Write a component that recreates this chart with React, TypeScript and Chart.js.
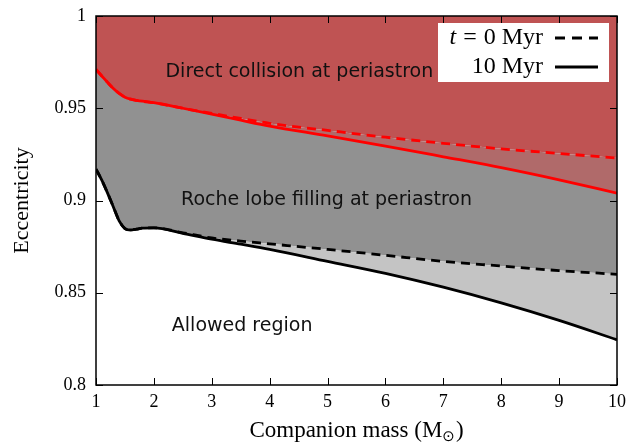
import { useEffect, useRef } from "react";
import { Chart, registerables } from "chart.js";

Chart.register(...registerables);

// Companion mass grid (M_sun)
const massGrid = [1, 1.1, 1.2, 1.3, 1.4, 1.5, 1.6, 1.7, 1.8, 2, 2.5, 3, 3.5, 4, 5, 6, 7, 8, 9, 10];
// Direct collision boundary
const collision10 = [0.971, 0.9675, 0.964, 0.9607, 0.958, 0.956, 0.9549, 0.9543, 0.9538, 0.953, 0.95, 0.9468, 0.9435, 0.9403, 0.935, 0.9295, 0.9237, 0.9178, 0.9112, 0.904];
const collision0 = [0.971, 0.9675, 0.964, 0.9607, 0.958, 0.956, 0.9549, 0.9543, 0.9538, 0.953, 0.95, 0.9472, 0.9445, 0.9418, 0.938, 0.9343, 0.931, 0.928, 0.9255, 0.923];
// Roche lobe filling boundary
const roche10 = [0.917, 0.911, 0.904, 0.8965, 0.889, 0.8848, 0.884, 0.8845, 0.885, 0.8852, 0.8822, 0.879, 0.8763, 0.8735, 0.867, 0.8605, 0.853, 0.8445, 0.835, 0.8245];
const roche0 = [0.917, 0.911, 0.904, 0.8965, 0.889, 0.8848, 0.884, 0.8845, 0.885, 0.8852, 0.8825, 0.8797, 0.878, 0.8765, 0.8735, 0.8703, 0.867, 0.8645, 0.862, 0.86];

const xTickValues = [1, 2, 3, 4, 5, 6, 7, 8, 9, 10];
const yTickValues = [0.8, 0.85, 0.9, 0.95, 1];

const regionLabels = ["Direct collision at periastron", "Roche lobe filling at periastron", "Allowed region"];
const legendLabels = ["0 Myr", "10 Myr"];

const SERIF = "'Liberation Serif', 'DejaVu Serif', serif";
const SANS = "'DejaVu Sans', 'Open Sans', sans-serif";

const pts = (ys: number[]) => massGrid.map((x, i) => ({ x, y: ys[i] }));

const decor = {
  id: "decor",
  afterDatasetsDraw(chart: any) {
    const ctx = chart.ctx as CanvasRenderingContext2D;
    const { left, right, top, bottom } = chart.chartArea;
    const xs = chart.scales.x;
    const ys = chart.scales.y;
    ctx.save();

    // region labels
    ctx.fillStyle = "#111";
    ctx.textBaseline = "alphabetic";
    ctx.textAlign = "left";
    ctx.font = `19px ${SANS}`;
    ctx.fillText(regionLabels[0], xs.getPixelForValue(2.2), ys.getPixelForValue(0.967));
    ctx.fillText(regionLabels[1], xs.getPixelForValue(2.47), ys.getPixelForValue(0.8976));
    ctx.fillText(regionLabels[2], xs.getPixelForValue(2.31), ys.getPixelForValue(0.829));

    // frame
    ctx.strokeStyle = "#000";
    ctx.lineWidth = 1.5;
    ctx.strokeRect(left, top, right - left, bottom - top);

    // inward ticks
    ctx.lineWidth = 1;
    const tl = 7;
    ctx.beginPath();
    xTickValues.forEach((v) => {
      const px = Math.round(xs.getPixelForValue(v)) + 0.5;
      ctx.moveTo(px, bottom);
      ctx.lineTo(px, bottom - tl);
      ctx.moveTo(px, top);
      ctx.lineTo(px, top + tl);
    });
    yTickValues.forEach((v) => {
      const py = Math.round(ys.getPixelForValue(v)) + 0.5;
      ctx.moveTo(left, py);
      ctx.lineTo(left + tl, py);
      ctx.moveTo(right, py);
      ctx.lineTo(right - tl, py);
    });
    ctx.stroke();

    // legend
    const bx = 438, by = 23, bw = 171, bh = 59;
    ctx.fillStyle = "#fff";
    ctx.fillRect(bx, by, bw, bh);
    ctx.fillStyle = "#000";
    ctx.textBaseline = "alphabetic";
    ctx.textAlign = "left";
    const textRight = 543;
    ctx.font = `24px ${SERIF}`;
    const w0 = ctx.measureText(legendLabels[0]).width;
    const wEq = ctx.measureText("=").width;
    const gap = 7;
    ctx.font = `italic 24px ${SERIF}`;
    const wT = ctx.measureText("t").width;
    let lx = textRight - w0 - gap - wEq - gap - wT;
    ctx.fillText("t", lx, 44);
    ctx.font = `24px ${SERIF}`;
    ctx.fillText("=", lx + wT + gap, 44);
    ctx.fillText(legendLabels[0], textRight - w0, 44);
    ctx.textAlign = "right";
    ctx.fillText(legendLabels[1], textRight, 73);

    ctx.strokeStyle = "#000";
    ctx.lineWidth = 3;
    ctx.setLineDash([10, 7]);
    ctx.beginPath();
    ctx.moveTo(555, 38);
    ctx.lineTo(598, 38);
    ctx.stroke();
    ctx.setLineDash([]);
    ctx.beginPath();
    ctx.moveTo(555, 67);
    ctx.lineTo(598, 67);
    ctx.stroke();

    // axis titles
    ctx.fillStyle = "#000";
    ctx.textBaseline = "alphabetic";
    ctx.textAlign = "left";
    ctx.font = `23px ${SERIF}`;
    const p1 = "Companion mass (M";
    const p3 = ")";
    const w1 = ctx.measureText(p1).width;
    const w3 = ctx.measureText(p3).width;
    ctx.font = `15px ${SANS}`;
    const w2 = ctx.measureText("\u2299").width;
    const total = w1 + w2 + w3 + 1;
    const cx = (left + right) / 2;
    const x0 = cx - total / 2;
    const base = 437;
    ctx.font = `23px ${SERIF}`;
    ctx.fillText(p1, x0, base);
    ctx.font = `15px ${SANS}`;
    ctx.fillText("\u2299", x0 + w1, base + 4);
    ctx.font = `23px ${SERIF}`;
    ctx.fillText(p3, x0 + w1 + w2 + 1, base);

    ctx.save();
    ctx.translate(22, (top + bottom) / 2);
    ctx.rotate(-Math.PI / 2);
    ctx.textAlign = "center";
    ctx.textBaseline = "middle";
    ctx.font = `22px ${SERIF}`;
    ctx.fillText("Eccentricity", 0, 0);
    ctx.restore();

    ctx.restore();
  },
};

export default function App() {
  const ref = useRef<HTMLCanvasElement>(null);
  useEffect(() => {
    document.body.style.margin = "0";
    const canvas = ref.current!;
    const lineBase = {
      pointRadius: 0,
      borderWidth: 2.8,
      cubicInterpolationMode: "monotone" as const,
    };
    const chart = new Chart(canvas, {
      type: "line",
      data: {
        datasets: [
          {
            ...lineBase,
            label: "roche 10 Myr",
            data: pts(roche10),
            borderColor: "#000",
            backgroundColor: "rgb(196,196,196)",
            fill: "+1",
          },
          {
            ...lineBase,
            label: "roche 0 Myr",
            data: pts(roche0),
            borderColor: "#000",
            borderDash: [9, 6],
            backgroundColor: "rgb(145,145,145)",
            fill: "+1",
          },
          {
            ...lineBase,
            label: "collision 10 Myr",
            data: pts(collision10),
            borderColor: "#ff0000",
            backgroundColor: "rgb(176,106,106)",
            fill: "+1",
          },
          {
            ...lineBase,
            label: "collision 0 Myr",
            data: pts(collision0),
            borderColor: "#ff0000",
            borderDash: [9, 6],
            backgroundColor: "rgb(191,83,83)",
            fill: "end",
          },
        ],
      },
      options: {
        animation: false,
        responsive: false,
        devicePixelRatio: 1,
        layout: { padding: { top: 16, right: 25, left: 0, bottom: 0 } },
        font: { family: SERIF },
        plugins: {
          legend: { display: false },
          tooltip: { enabled: false },
          filler: { drawTime: "beforeDatasetsDraw" },
        },
        scales: {
          x: {
            type: "linear",
            min: 1,
            max: 10,
            afterFit: (s: any) => {
              s.height = 58;
              s.paddingLeft = 0;
              s.paddingRight = 0;
              s.paddingTop = 0;
              s.paddingBottom = 0;
            },
            afterBuildTicks: (s: any) => {
              s.ticks = xTickValues.map((v) => ({ value: v }));
            },
            grid: { display: false, drawTicks: false },
            border: { display: false },
            ticks: {
              color: "#000",
              padding: 6,
              font: { family: SERIF, size: 18 },
              callback: (v: any) => String(v),
            },
          },
          y: {
            type: "linear",
            min: 0.8,
            max: 1,
            afterFit: (s: any) => {
              s.width = 96;
              s.paddingLeft = 0;
              s.paddingRight = 0;
              s.paddingTop = 0;
              s.paddingBottom = 0;
            },
            afterBuildTicks: (s: any) => {
              s.ticks = yTickValues.map((v) => ({ value: v }));
            },
            grid: { display: false, drawTicks: false },
            border: { display: false },
            ticks: {
              color: "#000",
              padding: 10,
              font: { family: SERIF, size: 18 },
              callback: (v: any) => String(parseFloat(Number(v).toFixed(2))),
            },
          },
        },
      },
      plugins: [decor],
    });
    return () => chart.destroy();
  }, []);
  return (
    <div style={{ width: 642, height: 443 }}>
      <canvas ref={ref} width={642} height={443} style={{ width: 642, height: 443, display: "block" }} />
    </div>
  );
}
